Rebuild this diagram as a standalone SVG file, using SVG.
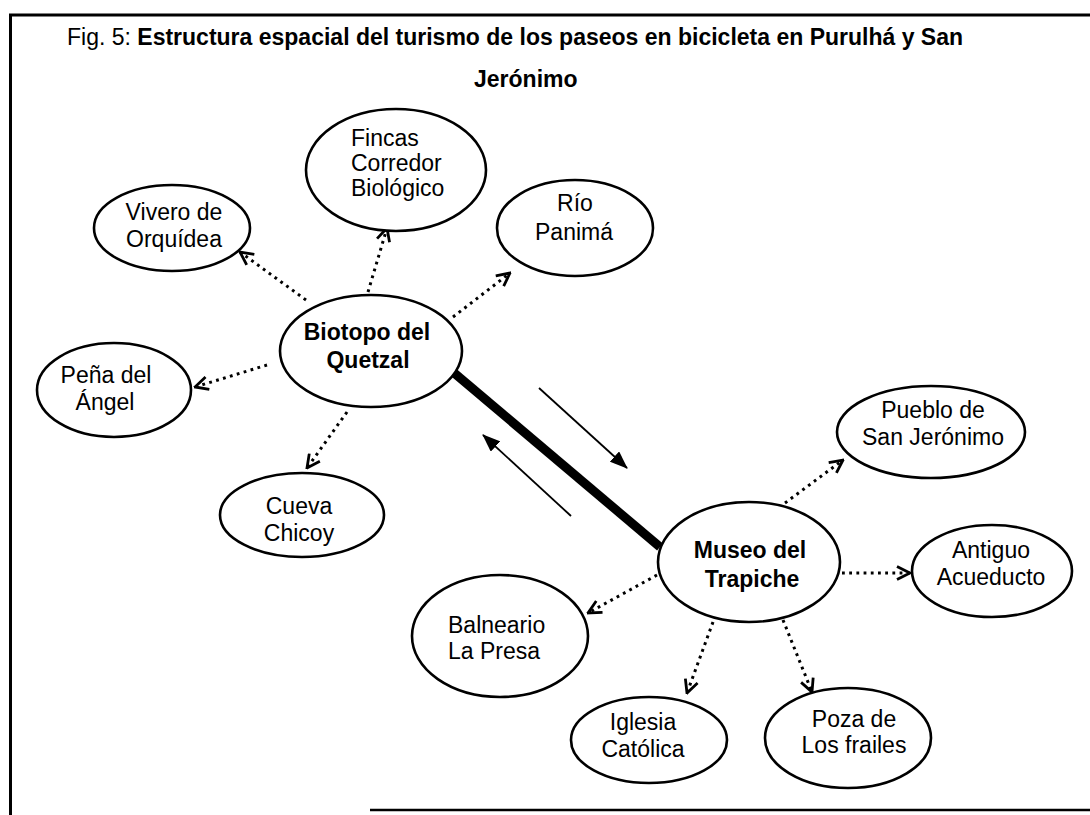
<svg xmlns="http://www.w3.org/2000/svg" width="1090" height="815" viewBox="0 0 1090 815">
<style>
  .bg{fill:#fff}
  .frame{stroke:#000;fill:none}
  .node ellipse{fill:#fff;stroke:#000;stroke-width:2.6}
  text{font-family:"Liberation Sans",Arial,sans-serif;font-size:23px;fill:#000}
  .c{text-anchor:middle}
  .b{font-weight:bold}
  .dot{stroke:#000;stroke-width:3;stroke-dasharray:2.8 4.4;fill:none;marker-end:url(#open)}
  .thin{stroke:#000;stroke-width:1.8;fill:none;marker-end:url(#solid)}
</style>
<defs>
  <marker id="open" viewBox="0 0 16 16" refX="14.5" refY="8" markerWidth="16" markerHeight="16" markerUnits="userSpaceOnUse" orient="auto">
    <path d="M1.5,1.5 L14.5,8 L1.5,14.5" fill="none" stroke="#000" stroke-width="2.8" stroke-linejoin="miter"/>
  </marker>
  <marker id="solid" viewBox="0 0 18 14" refX="17" refY="7" markerWidth="18" markerHeight="14" markerUnits="userSpaceOnUse" orient="auto">
    <path d="M0,0 L18,7 L0,14 z" fill="#000"/>
  </marker>
</defs>
<rect class="bg" x="0" y="0" width="1090" height="815"/>
<g id="frame">
  <line class="frame" x1="9" y1="15" x2="1090" y2="15" stroke-width="3"/>
  <line class="frame" x1="10.5" y1="14" x2="10.5" y2="815" stroke-width="3"/>
  <line class="frame" x1="370" y1="810" x2="1090" y2="810" stroke-width="2.6"/>
</g>
<g id="title">
  <text x="67" y="45">Fig. 5: <tspan class="b">Estructura espacial del turismo de los paseos en bicicleta en Purulhá y San</tspan></text>
  <text class="b" x="474" y="87">Jerónimo</text>
</g>
<g id="connectors">
  <line x1="453" y1="372" x2="660" y2="547" stroke="#000" stroke-width="9"/>
  <line class="thin" x1="539" y1="388" x2="627" y2="468"/>
  <line class="thin" x1="571" y1="516" x2="483" y2="435"/>
  <line class="dot" x1="306" y1="300" x2="240" y2="252"/>
  <line class="dot" x1="368" y1="292" x2="387" y2="228"/>
  <line class="dot" x1="453" y1="317" x2="510" y2="273"/>
  <line class="dot" x1="267" y1="365" x2="195" y2="387"/>
  <line class="dot" x1="347" y1="412" x2="307" y2="468"/>
  <line class="dot" x1="785" y1="503" x2="843" y2="460"/>
  <line class="dot" x1="842" y1="573" x2="910" y2="573"/>
  <line class="dot" x1="657" y1="575" x2="588" y2="613"/>
  <line class="dot" x1="713" y1="622" x2="687" y2="693"/>
  <line class="dot" x1="783" y1="620" x2="812" y2="692"/>
</g>
<g id="fincas" class="node">
  <ellipse cx="396" cy="170" rx="90" ry="61"/>
  <text x="351" y="146">Fincas</text>
  <text x="351" y="171">Corredor</text>
  <text x="351" y="196">Biológico</text>
</g>
<g id="vivero" class="node">
  <ellipse cx="172" cy="228" rx="78" ry="43"/>
  <text class="c" x="174" y="220">Vivero de</text>
  <text class="c" x="174" y="247">Orquídea</text>
</g>
<g id="rio" class="node">
  <ellipse cx="575" cy="228" rx="78" ry="48"/>
  <text class="c" x="575" y="211">Río</text>
  <text class="c" x="574" y="240">Panimá</text>
</g>
<g id="biotopo" class="node">
  <ellipse cx="371" cy="351" rx="91" ry="56"/>
  <text class="c b" x="367" y="340">Biotopo del</text>
  <text class="c b" x="368" y="368">Quetzal</text>
</g>
<g id="pena" class="node">
  <ellipse cx="114" cy="390" rx="77" ry="47"/>
  <text class="c" x="106" y="383">Peña del</text>
  <text class="c" x="105" y="410">Ángel</text>
</g>
<g id="cueva" class="node">
  <ellipse cx="302" cy="515" rx="82" ry="42"/>
  <text class="c" x="299" y="514">Cueva</text>
  <text class="c" x="299" y="541">Chicoy</text>
</g>
<g id="balneario" class="node">
  <ellipse cx="500" cy="636" rx="88" ry="61"/>
  <text x="448" y="633">Balneario</text>
  <text x="448" y="659">La Presa</text>
</g>
<g id="museo" class="node">
  <ellipse cx="749" cy="562" rx="91" ry="60"/>
  <text class="c b" x="750" y="558">Museo del</text>
  <text class="c b" x="752" y="587">Trapiche</text>
</g>
<g id="pueblo" class="node">
  <ellipse cx="931" cy="432" rx="94" ry="46"/>
  <text class="c" x="933" y="418">Pueblo de</text>
  <text class="c" x="933" y="445">San Jerónimo</text>
</g>
<g id="antiguo" class="node">
  <ellipse cx="992" cy="571" rx="80" ry="46"/>
  <text class="c" x="991" y="558">Antiguo</text>
  <text class="c" x="991" y="585">Acueducto</text>
</g>
<g id="iglesia" class="node">
  <ellipse cx="649" cy="740" rx="78" ry="43"/>
  <text class="c" x="643" y="730">Iglesia</text>
  <text class="c" x="643" y="757">Católica</text>
</g>
<g id="poza" class="node">
  <ellipse cx="848" cy="738" rx="83" ry="50"/>
  <text class="c" x="854" y="727">Poza de</text>
  <text class="c" x="854" y="753">Los frailes</text>
</g>
</svg>
